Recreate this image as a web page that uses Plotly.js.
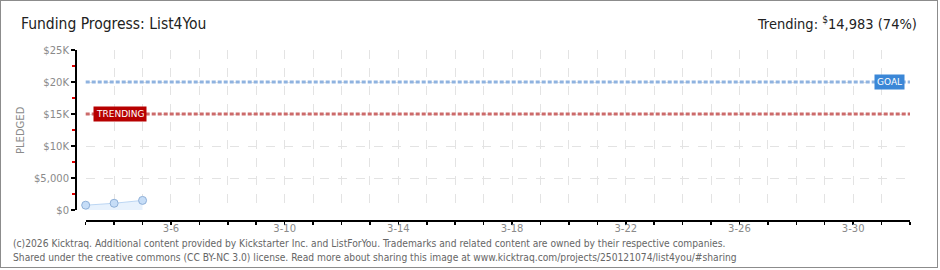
<!DOCTYPE html>
<html>
<head>
<meta charset="utf-8">
<script src="https://cdn.plot.ly/plotly-3.0.1.min.js"></script>
<style>
  html, body { margin: 0; padding: 0; background: #fff; }
  #wrap { position: relative; width: 940px; height: 270px; }
  #chart { width: 940px; height: 270px; }
  #frame { position: absolute; left: 0; top: 0; width: 936px; height: 266px; border: 1px solid #8c8c8c; pointer-events: none; }
</style>
</head>
<body>
<div id="wrap"><div id="chart"></div><div id="frame"></div></div>
<script>
// ---- data ----
const dates = ['2026-03-03', '2026-03-04', '2026-03-05'];
const pledged = [750, 1050, 1500];
const goal = 20000;
const trending = 14983;
const trendingPct = 74;
const xRange = ['2026-03-03', '2026-04-01'];
const xTickVals = ['2026-03-06', '2026-03-10', '2026-03-14', '2026-03-18', '2026-03-22', '2026-03-26', '2026-03-30'];
const xTickText = ['3-6', '3-10', '3-14', '3-18', '3-22', '3-26', '3-30'];
const yTickVals = [0, 5000, 10000, 15000, 20000, 25000];
const yTickText = ['$0', '$5,000', '$10K', '$15K', '$20K', '$25K'];
const titleText = 'Funding Progress: List4You';
const footer1 = '(c)2026 Kicktraq. Additional content provided by Kickstarter Inc. and ListForYou. Trademarks and related content are owned by their respective companies.';
const footer2 = 'Shared under the creative commons (CC BY-NC 3.0) license. Read more about sharing this image at www.kicktraq.com/projects/250121074/list4you/#sharing';

// ---- geometry helpers (pixel -> paper) ----
const W = 940, H = 270;
const mL = 76, mR = 30, mT = 50, mB = 49;
const pw = W - mL - mR, ph = H - mT - mB;
const px = v => (v - mL) / pw;
const py = v => (H - mB - v) / ph;

const gridColor = '#e3e3e3';
const tickFont = { family: 'DejaVu Sans, sans-serif', size: 10, color: '#8a8a8a' };
const headFont = 'DejaVu Sans Condensed, sans-serif';

const traces = [{
  type: 'scatter',
  mode: 'lines+markers',
  x: dates,
  y: pledged,
  fill: 'tozeroy',
  fillcolor: 'rgba(222,236,252,0.7)',
  line: { color: '#bcd6f3', width: 1 },
  marker: { size: 8, color: '#c6ddf7', line: { color: '#8fb0d8', width: 1 } },
  cliponaxis: false,
  hoverinfo: 'skip'
}];

const layout = {
  width: W, height: H,
  margin: { l: mL, r: mR, t: mT, b: mB, pad: 0 },
  paper_bgcolor: '#fff',
  plot_bgcolor: '#fff',
  showlegend: false,
  xaxis: {
    type: 'date',
    range: xRange,
    domain: [px(85.7), 1],
    anchor: 'free',
    position: 0,
    tickmode: 'array',
    tickvals: xTickVals,
    ticktext: xTickText,
    ticks: 'outside',
    ticklen: 3,
    tickwidth: 1.5,
    tickcolor: '#000',
    tickfont: tickFont,
    ticklabelstandoff: -5,
    showline: true,
    linecolor: '#000',
    linewidth: 2,
    showgrid: true,
    gridcolor: gridColor,
    griddash: 'dash',
    gridwidth: 1,
    zeroline: false,
    minor: {
      tickmode: 'linear',
      tick0: '2026-03-03',
      dtick: 86400000,
      ticks: 'outside',
      ticklen: 3,
      tickwidth: 1.5,
      tickcolor: '#000',
      showgrid: true,
      gridcolor: gridColor,
      griddash: 'dash',
      gridwidth: 1
    }
  },
  yaxis: {
    range: [0, 25000],
    domain: [py(210), 1],
    anchor: 'free',
    position: 0,
    tickmode: 'array',
    tickvals: yTickVals,
    ticktext: yTickText,
    ticks: 'outside',
    ticklen: 4,
    tickwidth: 1.5,
    tickcolor: '#000',
    tickfont: tickFont,
    showline: true,
    linecolor: '#000',
    linewidth: 2,
    showgrid: true,
    gridcolor: gridColor,
    griddash: 'dash',
    zeroline: false,
    minor: {
      tickmode: 'linear',
      tick0: 2500,
      dtick: 5000,
      ticks: 'outside',
      ticklen: 3,
      tickwidth: 1.5,
      tickcolor: '#e00000',
      showgrid: false
    }
  },
  shapes: [
    { type: 'line', xref: 'x domain', yref: 'y', x0: 0, x1: 1, y0: goal, y1: goal,
      line: { color: '#8fb3e0', width: 3, dash: '4px,2px' } },
    { type: 'line', xref: 'x domain', yref: 'y', x0: 0, x1: 1, y0: trending, y1: trending,
      line: { color: '#cc6a6a', width: 3, dash: '4px,2px' } }
  ],
  annotations: [
    { text: titleText, xref: 'paper', yref: 'paper', x: px(19), y: py(24), xanchor: 'left', yanchor: 'middle',
      showarrow: false, font: { family: headFont, size: 15.5, color: '#222' } },
    { text: 'Trending: <sup>$</sup>' + trending.toLocaleString('en-US') + ' (' + trendingPct + '%)',
      xref: 'paper', yref: 'paper', x: px(919), y: py(23), xanchor: 'right', yanchor: 'middle',
      showarrow: false, font: { family: headFont, size: 14.5, color: '#222' } },
    { text: 'PLEDGED', xref: 'paper', yref: 'paper', x: px(20), y: py(130), xanchor: 'center', yanchor: 'middle',
      textangle: -90, showarrow: false, font: { family: 'DejaVu Sans, sans-serif', size: 10, color: '#8a8a8a' } },
    { text: 'GOAL', xref: 'paper', yref: 'y', x: px(905), y: goal, xanchor: 'right', yanchor: 'middle',
      showarrow: false, bgcolor: '#3b87d7', borderpad: 2,
      font: { family: 'DejaVu Sans, sans-serif', size: 9, color: '#fff' } },
    { text: 'TRENDING', xref: 'paper', yref: 'y', x: px(93), y: trending, xanchor: 'left', yanchor: 'middle',
      showarrow: false, bgcolor: '#b70000', borderpad: 2,
      font: { family: 'DejaVu Sans, sans-serif', size: 9, color: '#fff' } },
    { text: footer1, xref: 'paper', yref: 'paper', x: px(11), y: py(243), xanchor: 'left', yanchor: 'middle',
      showarrow: false, font: { family: 'DejaVu Sans Condensed, DejaVu Sans, sans-serif', size: 10.2, color: '#666' } },
    { text: footer2, xref: 'paper', yref: 'paper', x: px(11), y: py(257), xanchor: 'left', yanchor: 'middle',
      showarrow: false, font: { family: 'DejaVu Sans Condensed, DejaVu Sans, sans-serif', size: 10.2, color: '#666' } }
  ]
};

Plotly.newPlot('chart', traces, layout, { displayModeBar: false, staticPlot: true });
</script>
</body>
</html>
